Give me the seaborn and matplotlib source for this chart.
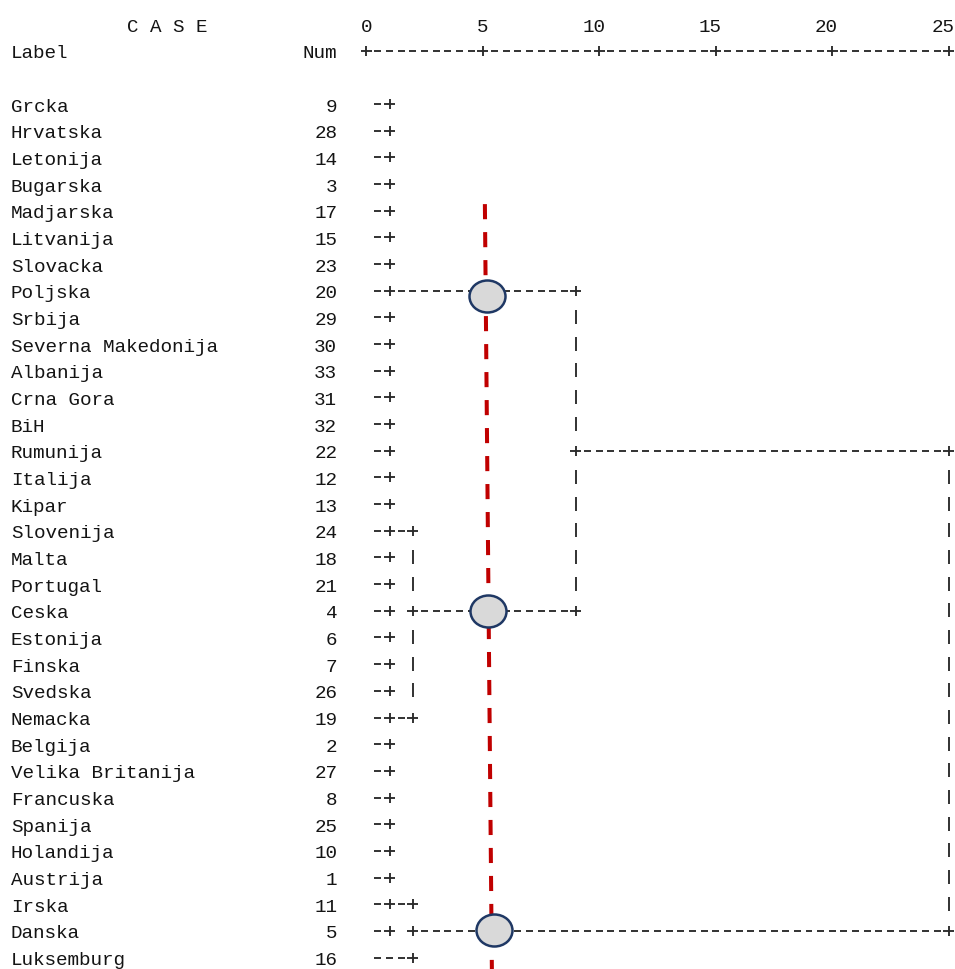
import matplotlib
matplotlib.use("Agg")
import matplotlib.pyplot as plt
from matplotlib.collections import LineCollection
from matplotlib.path import Path
from matplotlib.transforms import Affine2D
import seaborn as sns

# ---------------------------------------------------------------- data
labels = ["Grcka", "Hrvatska", "Letonija", "Bugarska", "Madjarska", "Litvanija",
          "Slovacka", "Poljska", "Srbija", "Severna Makedonija", "Albanija",
          "Crna Gora", "BiH", "Rumunija", "Italija", "Kipar", "Slovenija", "Malta",
          "Portugal", "Ceska", "Estonija", "Finska", "Svedska", "Nemacka", "Belgija",
          "Velika Britanija", "Francuska", "Spanija", "Holandija", "Austrija",
          "Irska", "Danska", "Luksemburg"]
case_num = [9, 28, 14, 3, 17, 15, 23, 20, 29, 30, 33, 31, 32, 22, 12, 13, 24, 18,
            21, 4, 6, 7, 26, 19, 2, 27, 8, 25, 10, 1, 11, 5, 16]

# rescaled distance at which each case first joins a cluster
leaf_join = [1] * 32 + [2]

# cluster links: (row label, distance of node, distance of parent)
link_rows = ["Poljska", "Slovenija", "Nemacka", "Ceska", "Rumunija", "Irska", "Danska"]
link_from = [1, 1, 1, 2, 9, 1, 2]
link_to = [9, 2, 2, 9, 25, 2, 25]

# cluster nodes: (distance, first member row, last member row)
node_dist = [2, 9, 2, 25]
node_top = ["Slovenija", "Poljska", "Irska", "Rumunija"]
node_bottom = ["Nemacka", "Ceska", "Luksemburg", "Danska"]

scale_ticks = [0, 5, 10, 15, 20, 25]

# cut line and the three clusters it crosses
cut_dist = [5.09, 5.39]
cut_row = [3.75, 32.43]
cut_mark_dist = [5.18, 5.24, 5.46]
cut_mark_row = [7.21, 18.99, 30.97]

# ---------------------------------------------------------------- style
sns.set_style("white")
plt.rcParams["font.family"] = ["Liberation Mono", "DejaVu Sans Mono"]

INK = "#2a2a2a"
TEXT = "#141414"
FS = 13.9

fig = plt.figure(figsize=(9.55, 9.70), dpi=100)
ax = fig.add_axes([0, 0, 1, 1])
ax.set_xlim(-15.72, 25.266)
ax.set_ylim(32.43, -3.941)
ax.axis("off")

row_of = {name: i for i, name in enumerate(labels)}

# ---------------------------------------------------------------- character grid
grid = {}


def put(row, k, ch):
    if grid.get((row, k)) == "+":
        return
    grid[(row, k)] = ch


for i, j in enumerate(leaf_join):
    kj = int(round(2 * j))
    for k in range(1, kj):
        put(i, k, "-")
    put(i, kj, "+")

for name, d0, d1 in zip(link_rows, link_from, link_to):
    r = row_of[name]
    k0, k1 = int(round(2 * d0)), int(round(2 * d1))
    grid[(r, k0)] = "+"
    for k in range(k0 + 1, k1):
        put(r, k, "-")
    grid[(r, k1)] = "+"

for d, top, bot in zip(node_dist, node_top, node_bottom):
    k = int(round(2 * d))
    r0, r1 = row_of[top], row_of[bot]
    grid[(r0, k)] = "+"
    grid[(r1, k)] = "+"
    for r in range(r0 + 1, r1):
        put(r, k, "|")

# distance scale ruler on the header line
RULER = -2
for k in range(0, 2 * scale_ticks[-1] + 1):
    grid[(RULER, k)] = "+" if (k / 2) in scale_ticks else "-"

DASH_HW = 0.150
PLUS_HW = 0.236
PLUS_HH = 0.1875
BAR_UP, BAR_DN = 0.281, 0.244

segs = []
for (r, k), ch in grid.items():
    d = k / 2
    if ch == "-":
        segs.append([(d - DASH_HW, r), (d + DASH_HW, r)])
    elif ch == "+":
        segs.append([(d - PLUS_HW, r), (d + PLUS_HW, r)])
        segs.append([(d, r - PLUS_HH), (d, r + PLUS_HH)])
    elif ch == "|":
        segs.append([(d, r - BAR_UP), (d, r + BAR_DN)])

ax.add_collection(LineCollection(segs, colors=INK, linewidths=1.35,
                                 capstyle="butt", zorder=2))

# ---------------------------------------------------------------- text
BASE = 0.244
ax.text(-10.25, -3 + BASE, "C A S E", ha="left", va="baseline", fontsize=FS, color=TEXT)
for t in scale_ticks:
    ax.text(t + 0.25, -3 + BASE, str(t), ha="right", va="baseline", fontsize=FS, color=TEXT)
ax.text(-15.25, -2 + BASE, "Label", ha="left", va="baseline", fontsize=FS, color=TEXT)
ax.text(-1.25, -2 + BASE, "Num", ha="right", va="baseline", fontsize=FS, color=TEXT)

for i, (lab, num) in enumerate(zip(labels, case_num)):
    ax.text(-15.25, i + BASE, lab, ha="left", va="baseline", fontsize=FS, color=TEXT)
    ax.text(-1.25, i + BASE, str(num), ha="right", va="baseline", fontsize=FS, color=TEXT)

# ---------------------------------------------------------------- cut line and markers
sns.lineplot(x=cut_dist, y=cut_row, sort=False, estimator=None, ax=ax,
             color="#c00000", linewidth=2.9, dashes=False,
             linestyle=(0, (3.75, 3.2)), zorder=3, legend=False)

oval = Path.unit_circle().transformed(Affine2D().scale(1.0, 32 / 36))
sns.scatterplot(x=cut_mark_dist, y=cut_mark_row, ax=ax, marker=oval, s=672,
                color="#d9d9d9", edgecolor="#1f3864", linewidth=1.8,
                zorder=4, legend=False)

ax.set_xlim(-15.72, 25.266)
ax.set_ylim(32.43, -3.941)
ax.axis("off")

fig.savefig("out.png", dpi=100)
